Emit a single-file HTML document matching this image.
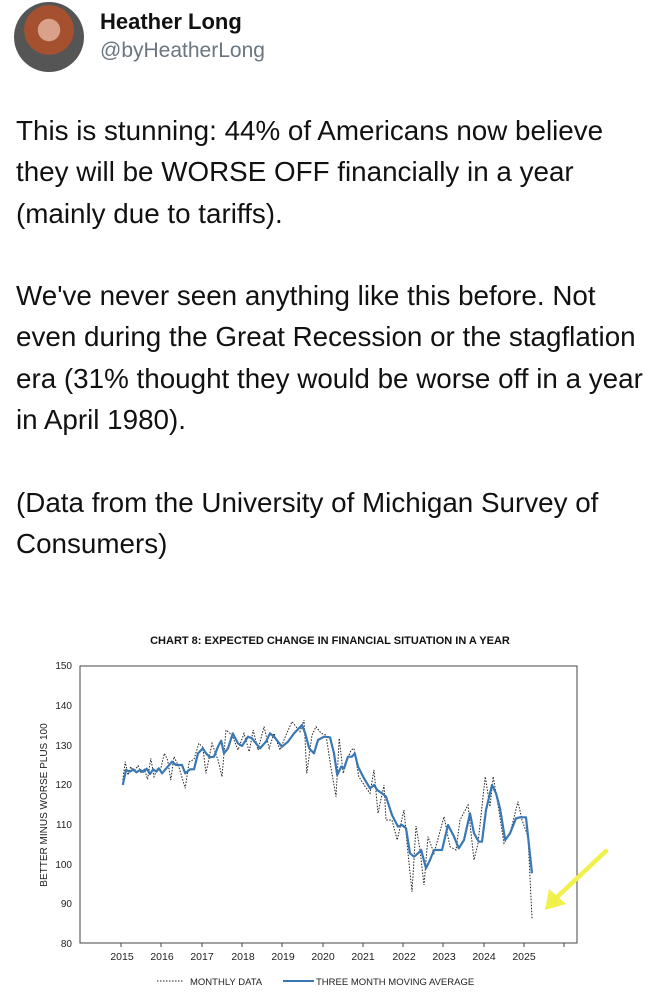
<!DOCTYPE html>
<html><head><meta charset="utf-8"><style>
body{margin:0;width:662px;height:1000px;background:#fff;font-family:"Liberation Sans",sans-serif;position:relative;overflow:hidden}
.av{position:absolute;left:14px;top:2px;width:70px;height:70px;border-radius:50%;background:radial-gradient(circle at 50% 40%,#d9a08a 0 20%,#a5502f 21% 45%,#555 46%)}
.name{position:absolute;left:100px;top:9px;font-size:22px;font-weight:bold;color:#111}
.handle{position:absolute;left:100px;top:39px;font-size:21px;color:#6b7680}
.txt{position:absolute;left:16px;top:110px;font-size:27.8px;line-height:41.3px;color:#111;width:660px;white-space:nowrap}
.txt p{margin:0 0 41.3px 0}
</style></head><body>
<div class="av"></div>
<div class="name">Heather Long</div>
<div class="handle">@byHeatherLong</div>
<div class="txt">
<p>This is stunning: 44% of Americans now believe<br>they will be WORSE OFF financially in a year<br>(mainly due to tariffs).</p>
<p>We've never seen anything like this before. Not<br>even during the Great Recession or the stagflation<br>era (31% thought they would be worse off in a year<br>in April 1980).</p>
<p>(Data from the University of Michigan Survey of<br>Consumers)</p>
</div>
<svg width="662" height="1000" style="position:absolute;left:0;top:0" font-family="Liberation Sans,sans-serif">
<text x="330" y="644" font-size="11" font-weight="bold" text-anchor="middle" fill="#111">CHART 8: EXPECTED CHANGE IN FINANCIAL SITUATION IN A YEAR</text>
<rect x="80" y="666" width="497" height="277" fill="none" stroke="#444" stroke-width="1"/>
<g font-size="10" fill="#222" text-anchor="end">
<text x="72" y="669">150</text><text x="72" y="709">140</text><text x="72" y="749">130</text><text x="72" y="788">120</text><text x="72" y="828">110</text><text x="72" y="868">100</text><text x="72" y="907">90</text><text x="72" y="947">80</text>
</g>
<text transform="translate(47,805) rotate(-90)" font-size="10" text-anchor="middle" fill="#222">BETTER MINUS WORSE PLUS 100</text>
<g font-size="10.5" fill="#222" text-anchor="middle">
<text x="122" y="960">2015</text><text x="162" y="960">2016</text><text x="202" y="960">2017</text><text x="243" y="960">2018</text><text x="283" y="960">2019</text><text x="323" y="960">2020</text><text x="363" y="960">2021</text><text x="404" y="960">2022</text><text x="444" y="960">2023</text><text x="484" y="960">2024</text><text x="524" y="960">2025</text>
</g>
<g stroke="#444">
<path d="M121 943v4M161 943v4M202 943v4M242 943v4M282 943v4M323 943v4M363 943v4M403 943v4M443 943v4M484 943v4M524 943v4M564 943v4"/>
</g>
<g transform="translate(30,620) scale(0.4,0.33333)">
<polyline fill="none" stroke="#222" stroke-width="1" stroke-dasharray="1.5 1.5" vector-effect="non-scaling-stroke" points="232,480 238,425 245,465 252,440 260,455 270,437 278,460 286,448 294,478 302,415 310,470 318,447 326,450 336,400 344,420 352,480 360,410 372,440 388,505 398,425 410,418 422,370 432,382 440,460 455,370 470,420 480,470 490,330 505,345 520,390 535,340 548,395 558,330 570,390 585,320 598,385 610,340 625,390 640,345 655,305 675,335 685,300 692,460 705,345 715,320 728,340 740,345 752,440 765,530 773,355 783,460 793,420 803,390 810,385 822,470 838,500 850,520 860,450 870,580 885,495 890,600 905,600 918,660 935,570 945,700 955,815 965,618 975,690 985,795 995,650 1010,700 1035,590 1050,680 1065,690 1075,600 1095,555 1110,720 1120,670 1138,470 1150,560 1158,470 1170,555 1185,670 1200,640 1220,545 1230,600 1245,650 1255,895"/>
<polyline fill="none" stroke="#3a78b5" stroke-width="2.2" stroke-linejoin="round" vector-effect="non-scaling-stroke" points="232,495 240,450 250,455 258,448 266,457 275,450 284,455 292,446 300,462 308,448 316,455 322,445 330,460 340,446 355,425 365,435 380,435 388,460 400,448 410,448 420,400 432,385 440,400 450,412 460,410 470,380 478,362 485,400 495,385 507,340 520,370 530,378 545,350 555,355 575,385 590,365 600,340 610,350 630,380 645,365 660,340 680,315 688,340 698,385 710,400 720,360 735,350 750,352 760,400 768,465 778,440 785,445 795,410 805,410 812,400 820,440 835,475 850,505 860,495 868,510 880,520 890,530 905,585 920,620 930,615 940,625 950,700 960,710 970,700 978,690 990,745 1000,720 1010,690 1030,690 1045,615 1060,650 1072,685 1085,660 1100,580 1110,640 1122,665 1130,665 1140,570 1155,495 1165,520 1175,565 1188,660 1200,640 1215,595 1225,592 1240,592 1255,760"/>
</g>
<line x1="606" y1="851" x2="556" y2="898" stroke="#f2f04a" stroke-width="4.5" stroke-linecap="round"/>
<polygon points="545,910 549,889 566,904" fill="#f2f04a"/>
<line x1="157" y1="981" x2="184" y2="981" stroke="#222" stroke-dasharray="1.5 1.5"/>
<text x="190" y="985" font-size="9.5" fill="#222">MONTHLY DATA</text>
<line x1="283" y1="981" x2="314" y2="981" stroke="#3a78b5" stroke-width="2"/>
<text x="316" y="985" font-size="9.5" fill="#222">THREE MONTH MOVING AVERAGE</text>
</svg>
</body></html>
